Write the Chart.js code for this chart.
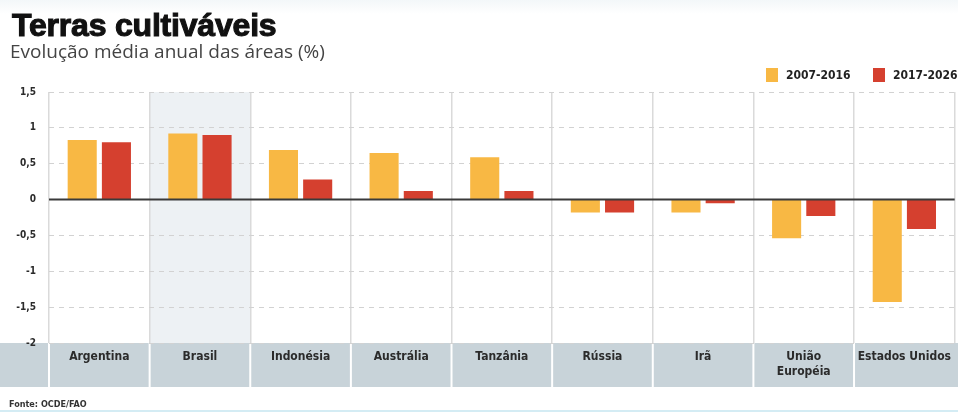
<!DOCTYPE html>
<html>
<head>
<meta charset="utf-8">
<script src="https://cdn.jsdelivr.net/npm/chart.js@4.4.1/dist/chart.umd.min.js"></script>
<style>
  html, body { margin: 0; padding: 0; background: #fff; }
  #wrap { position: relative; width: 958px; height: 412px; overflow: hidden;
          background: linear-gradient(#f3f7f9 0px, #fff 14px); }
  #chart { position: absolute; left: 0; top: 0; }
  .title { position: absolute; left: 12px; top: 7px; font: 900 32px "Liberation Sans", Arial, sans-serif;
           letter-spacing: -0.2px; color: #111; -webkit-text-stroke: 1.1px #111; white-space: nowrap; }
  .sub { position: absolute; left: 10px; top: 38px; font: 19px "Open Sans", sans-serif; color: #444; white-space: nowrap; }
  .legend { position: absolute; top: 68px; font: bold 12px "DejaVu Sans Condensed", "DejaVu Sans", sans-serif;
            color: #222; white-space: nowrap; }
  .legend span.sw { display: inline-block; width: 12px; height: 14px; vertical-align: -3px; margin-right: 8px; }
  .fonte { position: absolute; left: 9px; top: 399px; font: bold 9px "DejaVu Sans Condensed", "DejaVu Sans", sans-serif; color: #333; }
  .foot { position: absolute; left: 0; right: 0; top: 410px; height: 2px; background: #d4ecf4; }
</style>
</head>
<body>
<div id="wrap">
  <canvas id="chart" width="958" height="412"></canvas>
  <div class="title">Terras cultiváveis</div>
  <div class="sub">Evolução média anual das áreas (%)</div>
  <div class="legend" style="left:766px"><span class="sw" style="background:#f8b844"></span>2007-2016</div>
  <div class="legend" style="left:873px"><span class="sw" style="background:#d5402f"></span>2017-2026</div>
  <div class="fonte">Fonte: OCDE/FAO</div>
  <div class="foot"></div>
</div>
<script>
// categories and values
const countries = ['Argentina', 'Brasil', 'Indonésia', 'Austrália', 'Tanzânia', 'Rússia', 'Irã', ['União', 'Européia'], 'Estados Unidos'];
const period1 = [0.83, 0.92, 0.69, 0.65, 0.59, -0.18, -0.18, -0.54, -1.43];
const period2 = [0.80, 0.90, 0.28, 0.12, 0.12, -0.18, -0.05, -0.23, -0.41];
const seriesNames = ['2007-2016', '2017-2026'];
const highlighted = 1; // Brasil

const bandBottom = 387;

// background column for Brasil, grey band under the plot for country names
const backdrop = {
    id: 'backdrop',
    beforeDraw(chart) {
        const { ctx, chartArea } = chart;
        const x = chart.scales.x;
        const step = x.width / countries.length;
        ctx.save();
        const cx = x.getPixelForValue(highlighted);
        ctx.fillStyle = '#edf1f4';
        ctx.fillRect(cx - step / 2, chartArea.top, step, chartArea.bottom - chartArea.top);

        ctx.fillStyle = '#c8d3d9';
        ctx.fillRect(0, chartArea.bottom, chart.width, bandBottom - chartArea.bottom);
        ctx.strokeStyle = '#ffffff';
        ctx.lineWidth = 2;
        for (let i = 0; i < countries.length; i++) {
            const bx = x.getPixelForValue(i) - step / 2;
            ctx.beginPath();
            ctx.moveTo(bx, chartArea.bottom);
            ctx.lineTo(bx, bandBottom);
            ctx.stroke();
        }
        ctx.restore();
    },
    afterDatasetsDraw(chart) {
        const { ctx, chartArea } = chart;
        const y0 = chart.scales.y.getPixelForValue(0);
        ctx.save();
        ctx.strokeStyle = '#3a3a3a';
        ctx.lineWidth = 2;
        ctx.beginPath();
        ctx.moveTo(chartArea.left, y0);
        ctx.lineTo(chartArea.right, y0);
        ctx.stroke();
        ctx.restore();
    }
};

new Chart(document.getElementById('chart'), {
    type: 'bar',
    data: {
        labels: countries,
        datasets: [
            { label: seriesNames[0], data: period1, backgroundColor: '#f8b844' },
            { label: seriesNames[1], data: period2, backgroundColor: '#d5402f' }
        ]
    },
    options: {
        responsive: false,
        devicePixelRatio: 1,
        animation: false,
        layout: { padding: { top: 92, right: 0, left: 0, bottom: 0 } },
        datasets: { bar: { categoryPercentage: 0.68, barPercentage: 0.85 } },
        plugins: { legend: { display: false }, tooltip: { enabled: false } },
        scales: {
            x: {
                afterFit(scale) { scale.height = 69; },
                grid: { offset: true, color: '#dadada', lineWidth: 1.5, drawTicks: false },
                border: { display: false },
                ticks: {
                    padding: 7,
                    color: '#2b2b2b',
                    font: { family: '"DejaVu Sans Condensed", "DejaVu Sans", sans-serif', weight: 'bold', size: 12 }
                }
            },
            y: {
                min: -2,
                max: 1.5,
                afterFit(scale) { scale.width = 49; },
                grid: { color: '#d2d2d2', lineWidth: 1, drawTicks: false },
                border: { display: false, dash: [5, 5] },
                ticks: {
                    stepSize: 0.5,
                    padding: 13,
                    color: '#2b2b2b',
                    font: { family: '"DejaVu Sans Condensed", "DejaVu Sans", sans-serif', weight: 'bold', size: 10 },
                    callback: (v) => String(v).replace('.', ',')
                }
            }
        }
    },
    plugins: [backdrop]
});
</script>
</body>
</html>
